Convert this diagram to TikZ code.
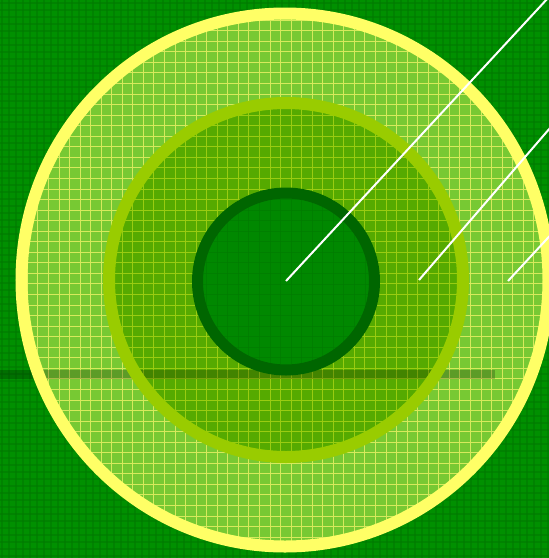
\documentclass[tikz,border=0pt]{standalone}
\usetikzlibrary{positioning}
\definecolor{rough}{HTML}{009000}
\definecolor{roughdark}{HTML}{007800}
\definecolor{fringe}{HTML}{77C933}
\definecolor{fringeline}{HTML}{D6EA5C}
\definecolor{apron}{HTML}{55AA00}
\definecolor{apronline}{HTML}{99CC11}
\definecolor{cup}{HTML}{008800}
\definecolor{cupline}{HTML}{007A00}
\definecolor{sand}{HTML}{FFFF66}
\definecolor{lime}{HTML}{99CC00}
\definecolor{deep}{HTML}{006600}
\tikzset{
  roughline/.style={draw=roughdark, line width=1.2pt},
  meshline/.style={draw=fringeline, line width=0.9pt},
  apronmesh/.style={draw=apronline, line width=0.9pt},
  cupmesh/.style={draw=cupline, line width=0.8pt},
  shade/.style={fill=black, opacity=0.22},
  ring/.style={line width=12pt},
  pin/.style={draw=white, line width=2pt},
}
\begin{document}
\begin{tikzpicture}[x=1pt,y=-1pt]

  \useasboundingbox (0,0) rectangle (549,558);

  % =====================================================
  % ROUGH
  % =====================================================

  \fill[rough] (0,0) rectangle (549,558);
  \foreach \gx in {0,...,78}
    \draw[roughline, opacity=0.5] ({2+7*\gx},0) -- ++(0,558);
  \foreach \gy in {0,...,79}
    \draw[roughline, opacity=0.5] (0,{3+7*\gy}) -- ++(549,0);

  \coordinate (green) at (285,280);
  \coordinate (collar) at (286,280);
  \coordinate (hole) at (286,281.5);

  % =====================================================
  % OUTER AREA
  % =====================================================

  \fill[fringe] (green) ellipse [x radius=264pt, y radius=267pt];
  \begin{scope}
    \clip (green) ellipse [x radius=264pt, y radius=267pt];
    \foreach \gx in {0,...,52}
      \draw[meshline] ({6.2+10.55*\gx},0) -- ++(0,558);
    \foreach \gy in {0,...,53}
      \draw[meshline] (0,{9.6+10.55*\gy}) -- ++(549,0);
  \end{scope}

  % =====================================================
  % MIDDLE AREA
  % =====================================================

  \fill[apron] (collar) circle [radius=177pt];
  \begin{scope}
    \clip (collar) circle [radius=177pt];
    \foreach \gx in {0,...,52}
      \draw[apronmesh] ({6.2+10.55*\gx},0) -- ++(0,558);
    \foreach \gy in {0,...,53}
      \draw[apronmesh] (0,{9.6+10.55*\gy}) -- ++(549,0);
  \end{scope}

  % =====================================================
  % SHADOW BAND
  % =====================================================

  \fill[shade] (0,370) rectangle (495,379);

  % =====================================================
  % RINGS
  % =====================================================

  \draw[lime, ring] (collar) circle [radius=177pt];

  \fill[cup] (hole) circle [radius=88pt];
  \begin{scope}
    \clip (hole) circle [radius=88pt];
    \foreach \gx in {0,...,52}
      \draw[cupmesh, opacity=0.6] ({6.2+10.55*\gx},0) -- ++(0,558);
    \foreach \gy in {0,...,53}
      \draw[cupmesh, opacity=0.6] (0,{9.6+10.55*\gy}) -- ++(549,0);
  \end{scope}
  \draw[deep, line width=11pt] (hole) circle [radius=88.5pt];

  \draw[sand, ring] (green) ellipse [x radius=263.5pt, y radius=266.5pt];

  % =====================================================
  % WHITE LINES
  % =====================================================

  \coordinate (pinA) at (286,281);
  \coordinate (pinB) at (419,280);
  \coordinate (pinC) at (508,281);

  \draw[pin] (pinA) -- ++(300,-324);
  \draw[pin] (pinB) -- ++(200,-232);
  \draw[pin] (pinC) -- ++(100,-108);

\end{tikzpicture}
\end{document}
